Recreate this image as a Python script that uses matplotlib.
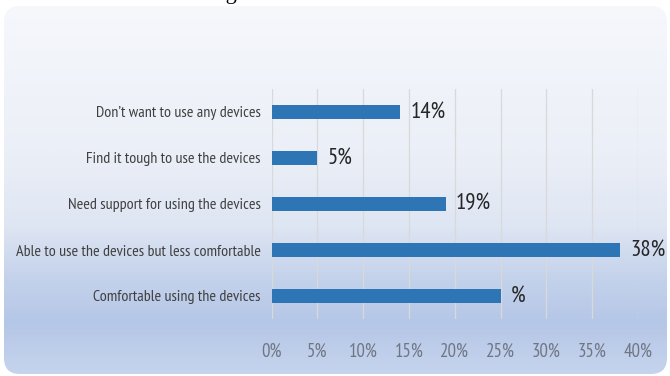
import matplotlib
matplotlib.use("Agg")
import matplotlib.pyplot as plt
import numpy as np
from matplotlib.patches import FancyBboxPatch
from matplotlib.colors import LinearSegmentedColormap

# Survey responses, listed bottom to top
categories = [
    "Comfortable using the devices",
    "Able to use the devices but less comfortable",
    "Need support for using the devices",
    "Find it tough to use the devices",
    "Don\u2019t want to use any devices",
]
values = [25, 38, 19, 5, 14]
value_labels = ["%", "38%", "19%", "5%", "14%"]
ticks = [0, 5, 10, 15, 20, 25, 30, 35, 40]
tick_labels = [f"{t}%" for t in ticks]

plt.rcParams["font.family"] = ["PT Sans Narrow", "DejaVu Sans"]

W, H = 670, 376
fig = plt.figure(figsize=(W / 100, H / 100), dpi=100)
fig.patch.set_facecolor("white")

# rounded panel with a vertical gradient behind the chart
bg = fig.add_axes([0, 0, 1, 1])
bg.set_xlim(0, W)
bg.set_ylim(H, 0)
bg.axis("off")
stops = [(0.0, "#F6F8FC"), (0.40, "#EBEFF7"), (0.60, "#DFE6F3"),
         (0.74, "#C4D2EB"), (0.86, "#B5C7E7"), (1.0, "#C6D4ED")]
cmap = LinearSegmentedColormap.from_list("panel", stops)
grad = np.linspace(0, 1, 400).reshape(-1, 1)
img = bg.imshow(grad, cmap=cmap, aspect="auto", extent=(0, W, H, 0),
                origin="upper", zorder=0)
panel = FancyBboxPatch((4, 6), 663, 368, boxstyle="round,pad=0,rounding_size=16",
                       transform=bg.transData, facecolor="none", edgecolor="none")
bg.add_patch(panel)
img.set_clip_path(panel)

# text line from the page above, mostly cut off
fig.text(0.0, 1 + 0.5 / H, "devices is shown in the figure below.",
         family="Liberation Serif", fontsize=16, va="baseline", ha="left",
         color="black")

ax = fig.add_axes([271.5 / W, 57 / H, 366.5 / W, 230 / H])
ax.patch.set_alpha(0)
y = np.arange(len(categories))
ax.barh(y, values, height=0.3, color="#2E75B6", zorder=3)
ax.set_xlim(0, 40)
ax.set_ylim(-0.5, len(categories) - 0.5)

ax.set_xticks(ticks)
ax.set_xticklabels(tick_labels, fontsize=13.5, color="#6F7682")
ax.set_yticks(y)
ax.set_yticklabels(categories, fontsize=11.5, color="#404040")
ax.tick_params(axis="both", length=0)
ax.tick_params(axis="x", pad=17)
ax.tick_params(axis="y", pad=8)
ax.grid(axis="x", color="#D9D9D9", linewidth=0.9, zorder=0)
for s in ax.spines.values():
    s.set_visible(False)

for yi, v, lab in zip(y, values, value_labels):
    ax.annotate(lab, (v, yi), xytext=(7.5, 0), textcoords="offset points",
                va="center", ha="left", fontsize=16.5, color="#262626")

fig.savefig("out.png", dpi=100)
